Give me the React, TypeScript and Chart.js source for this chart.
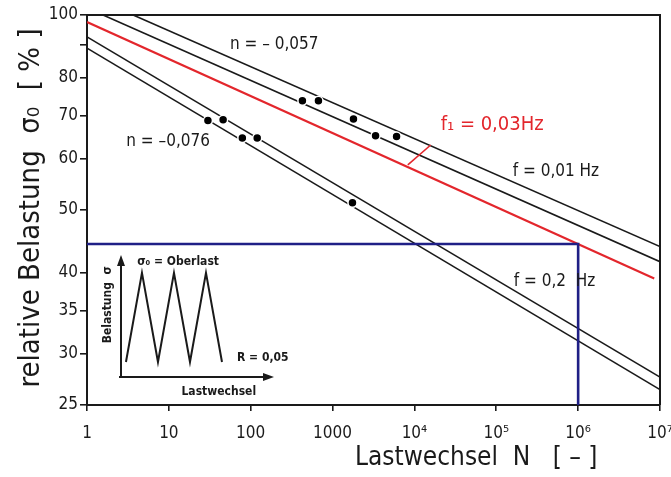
import React, { useEffect, useRef } from "react";
import { Chart, registerables } from "chart.js";
Chart.register(...registerables);

const FONT = "'DejaVu Sans Condensed', 'DejaVu Sans', sans-serif";
const INK = "#1a1a1a";
const RED = "#e3262c";
const BLUE = "#1f1f86";

// Axis ticks
const xTicks = [1, 10, 100, 1000, 1e4, 1e5, 1e6, 1e7];
const xTickLabels = ["1", "10", "100", "1000", "10⁴", "10⁵", "10⁶", "10⁷"];
const yTicks = [25, 30, 35, 40, 50, 60, 70, 80, 90, 100];
const yTickLabels = ["25", "30", "35", "40", "50", "60", "70", "80", "", "100"];

// S-N lines (N, relative load %)
const lineA_N = [3.66, 1e7];
const lineA_S = [100, 43.9];
const lineB_N = [1.57, 1e7];
const lineB_S = [100, 41.6];
const lineC_N = [1, 1e7];
const lineC_S = [92.5, 27.6];
const lineD_N = [1, 1e7];
const lineD_S = [88.9, 26.4];
const redN = [1, 8.5e6];
const redS = [97.5, 39.2];
const blueN = [1, 1e6, 1e6];
const blueS = [44.3, 44.3, 25];
const f1MarkN = [8300, 15800];
const f1MarkS = [58.7, 63.0];

// Measured points
const dotsUpperN = [428, 672, 1800, 3350, 6050];
const dotsUpperS = [73.7, 73.7, 69.1, 65.1, 64.9];
const dotsLowerN = [30, 46, 79, 120, 1750];
const dotsLowerS = [68.7, 68.9, 64.6, 64.6, 51.3];

// Annotations
const annText = ["n = – 0,057", "n = –0,076", "f₁ = 0,03Hz", "f = 0,01 Hz", "f = 0,2  Hz"];
const annN = [194, 9.8, 20900, 159000, 164000];
const annS = [89.9, 63.7, 67.6, 57.3, 38.7];
const annAlign = ["center", "center", "left", "left", "left"];
const annColor = [INK, INK, RED, INK, INK];
const annSize = [17, 17, 20, 17, 17];

// Inset (schematic load cycle)
const sawX = [0, 1, 2, 3, 4, 5, 6];
const sawY = [0.05, 1, 0.05, 1, 0.05, 1, 0.05];

const pts = (xs: number[], ys: number[]) => xs.map((x, i) => ({ x, y: ys[i] }));

const lineDs = (xs: number[], ys: number[], color: string, width: number, order = 5) => ({
  type: "line" as const,
  data: pts(xs, ys),
  borderColor: color,
  borderWidth: width,
  pointRadius: 0,
  tension: 0,
  fill: false,
  order,
});

const mainPlugin = {
  id: "mainDecor",
  beforeDatasetsDraw(chart: any) {
    const { ctx, chartArea } = chart;
    ctx.save();
    ctx.strokeStyle = INK;
    ctx.lineWidth = 2;
    ctx.beginPath();
    ctx.moveTo(chartArea.left, chartArea.top);
    ctx.lineTo(chartArea.right, chartArea.top);
    ctx.lineTo(chartArea.right, chartArea.bottom);
    ctx.stroke();
    ctx.restore();
  },
  afterDraw(chart: any) {
    const { ctx, scales } = chart;
    const xs = scales.x;
    const ys = scales.y;
    ctx.save();
    ctx.textBaseline = "middle";
    annText.forEach((t, i) => {
      ctx.font = `${annSize[i]}px ${FONT}`;
      ctx.fillStyle = annColor[i];
      ctx.textAlign = annAlign[i] as CanvasTextAlign;
      ctx.fillText(t, xs.getPixelForValue(annN[i]), ys.getPixelForValue(annS[i]));
    });
    // axis titles
    ctx.fillStyle = INK;
    ctx.font = `26px ${FONT}`;
    ctx.textAlign = "left";
    ctx.fillText("Lastwechsel  N   [ – ]", 355, 458);
    ctx.translate(31, 208);
    ctx.rotate(-Math.PI / 2);
    ctx.textAlign = "center";
    ctx.font = `29px ${FONT}`;
    ctx.fillText("relative Belastung  σ₀  [ % ]", 0, 0);
    ctx.restore();
  },
};

const insetPlugin = {
  id: "insetDecor",
  afterDraw(chart: any) {
    const { ctx, chartArea, scales } = chart;
    const { left, right, top, bottom } = chartArea;
    ctx.save();
    ctx.strokeStyle = INK;
    ctx.fillStyle = INK;
    ctx.lineWidth = 2;
    ctx.beginPath();
    ctx.moveTo(left, bottom + 1);
    ctx.lineTo(left, top + 6);
    ctx.moveTo(left - 2, bottom);
    ctx.lineTo(right - 6, bottom);
    ctx.stroke();
    ctx.beginPath();
    ctx.moveTo(left, top);
    ctx.lineTo(left - 4, top + 11);
    ctx.lineTo(left + 4, top + 11);
    ctx.closePath();
    ctx.fill();
    ctx.beginPath();
    ctx.moveTo(right, bottom);
    ctx.lineTo(right - 11, bottom - 4);
    ctx.lineTo(right - 11, bottom + 4);
    ctx.closePath();
    ctx.fill();
    const xs = scales.x;
    const ys = scales.y;
    ctx.font = `bold 12px ${FONT}`;
    ctx.textBaseline = "middle";
    ctx.textAlign = "left";
    ctx.fillText("σ₀ = Oberlast", xs.getPixelForValue(0.7), ys.getPixelForValue(1.117));
    ctx.fillText("R = 0,05", xs.getPixelForValue(6.94), ys.getPixelForValue(0.093));
    ctx.textAlign = "center";
    ctx.fillText("Lastwechsel", xs.getPixelForValue(5.8), ys.getPixelForValue(-0.27));
    ctx.translate(xs.getPixelForValue(-1.125), ys.getPixelForValue(0.66));
    ctx.rotate(-Math.PI / 2);
    ctx.fillText("Belastung  σ", 0, 0);
    ctx.restore();
  },
};

export default function App() {
  const mainRef = useRef<HTMLCanvasElement>(null);
  const insetRef = useRef<HTMLCanvasElement>(null);

  useEffect(() => {
    document.body.style.margin = "0";
    const labelFor = (arr: number[], labels: string[]) => (v: any) => {
      const n = Number(v);
      const i = arr.findIndex((t) => Math.abs(t - n) < 1e-6 * t);
      return i >= 0 ? labels[i] : "";
    };
    const main = new Chart(mainRef.current!, {
      type: "line",
      data: {
        datasets: [
          {
            type: "scatter" as const,
            data: pts(dotsUpperN, dotsUpperS).concat(pts(dotsLowerN, dotsLowerS)),
            backgroundColor: "#000",
            borderColor: "#fff",
            borderWidth: 1.5,
            pointRadius: 4.5,
            showLine: false,
            order: 0,
          } as any,
          lineDs(lineA_N, lineA_S, INK, 1.6),
          lineDs(lineB_N, lineB_S, INK, 1.6),
          lineDs(lineC_N, lineC_S, INK, 1.6),
          lineDs(lineD_N, lineD_S, INK, 1.6),
          lineDs(redN, redS, RED, 2.2, 3),
          lineDs(f1MarkN, f1MarkS, RED, 1.6, 3),
          lineDs(blueN, blueS, BLUE, 2.6, 2),
        ],
      },
      options: {
        responsive: false,
        animation: false,
        devicePixelRatio: 1,
        layout: { padding: { top: 15, right: 11, left: 0, bottom: 0 } },
        plugins: { legend: { display: false }, tooltip: { enabled: false } },
        scales: {
          x: {
            type: "logarithmic",
            min: 1,
            max: 1e7,
            afterBuildTicks: (s: any) => {
              s.ticks = xTicks.map((v) => ({ value: v }));
            },
            afterFit: (s: any) => {
              s.height = 72;
              s.paddingLeft = 0;
              s.paddingRight = 0;
            },
            ticks: {
              autoSkip: false,
              maxRotation: 0,
              callback: labelFor(xTicks, xTickLabels),
              font: { family: FONT, size: 17 },
              color: INK,
              padding: 12,
            },
            grid: { drawOnChartArea: false, tickLength: 6, color: INK, lineWidth: 1.6 },
            border: { color: INK, width: 2 },
          },
          y: {
            type: "logarithmic",
            min: 25,
            max: 100,
            afterBuildTicks: (s: any) => {
              s.ticks = yTicks.map((v) => ({ value: v }));
            },
            afterFit: (s: any) => {
              s.width = 87;
              s.paddingTop = 0;
              s.paddingBottom = 0;
            },
            ticks: {
              autoSkip: false,
              callback: labelFor(yTicks, yTickLabels),
              font: { family: FONT, size: 17 },
              color: INK,
              padding: 2,
            },
            grid: { drawOnChartArea: false, tickLength: 7, color: INK, lineWidth: 1.6 },
            border: { color: INK, width: 2 },
          },
        },
      } as any,
      plugins: [mainPlugin],
    });

    const inset = new Chart(insetRef.current!, {
      type: "line",
      data: {
        datasets: [
          {
            data: pts(sawX, sawY),
            borderColor: INK,
            borderWidth: 2,
            pointRadius: 0,
            tension: 0,
            fill: false,
          },
        ],
      },
      options: {
        responsive: false,
        animation: false,
        devicePixelRatio: 1,
        layout: { padding: { left: 21, right: 26, top: 15, bottom: 28 } },
        plugins: { legend: { display: false }, tooltip: { enabled: false } },
        scales: {
          x: { type: "linear", display: false, min: -0.31, max: 9.25 },
          y: { type: "linear", display: false, min: -0.11, max: 1.19 },
        },
      } as any,
      plugins: [insetPlugin],
    });

    return () => {
      main.destroy();
      inset.destroy();
    };
  }, []);

  return (
    <div style={{ position: "relative", width: 671, height: 477, background: "#fff" }}>
      <canvas ref={mainRef} width={671} height={477} style={{ position: "absolute", left: 0, top: 0 }} />
      <canvas ref={insetRef} width={200} height={165} style={{ position: "absolute", left: 100, top: 240 }} />
    </div>
  );
}
